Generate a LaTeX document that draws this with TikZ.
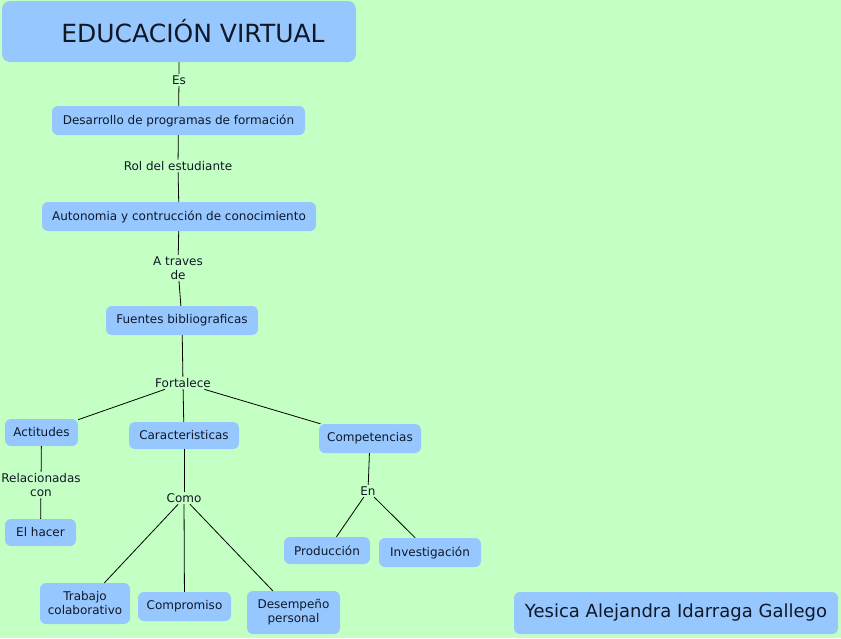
\documentclass[tikz,border=0pt]{standalone}
\usepackage{fontspec}
\setmainfont{DejaVu Sans}
\usepackage{xcolor}
\usetikzlibrary{positioning}

\definecolor{fondo}{RGB}{196,255,196}
\definecolor{caja}{RGB}{150,200,255}
\definecolor{texto}{RGB}{16,24,40}

\begin{document}
\begin{tikzpicture}[
  x=1pt, y=-1pt,
  concepto/.style={rectangle, fill=caja, rounded corners=6pt, align=center, text=texto, inner sep=2pt, font=\fontsize{12}{14}\selectfont},
  enlace/.style={inner sep=1.5pt, align=center, text=texto, font=\fontsize{12}{14}\selectfont},
  linea/.style={draw=black, line width=0.8pt}
]
\fill[fondo] (0,0) rectangle (841,638);
\useasboundingbox (0,0) rectangle (841,638);

\node[concepto, rounded corners=8pt, minimum width=354pt, minimum height=61pt, font=\fontsize{25}{30}\selectfont] (titulo) at (179,31.5) {\hspace*{28pt}EDUCACIÓN VIRTUAL};
\node[concepto, minimum width=253pt, minimum height=29pt] (desarrollo) at (178.5,120.5) {Desarrollo de programas de formación};
\node[concepto, minimum width=274pt, minimum height=29pt] (autonomia) at (179,216.5) {Autonomia y contrucción de conocimiento};
\node[concepto, minimum width=152pt, minimum height=29pt] (fuentes) at (182,320.5) {Fuentes bibliograficas};
\node[concepto, minimum width=73pt, minimum height=27pt] (actitudes) at (41.5,432.5) {Actitudes};
\node[concepto, minimum width=110pt, minimum height=27pt] (caract) at (184,435.5) {Caracteristicas};
\node[concepto, minimum width=102pt, minimum height=29pt] (compet) at (370,438.5) {Competencias};
\node[concepto, minimum width=71pt, minimum height=27pt] (hacer) at (40.5,532.5) {El hacer};
\node[concepto, minimum width=90pt, minimum height=41pt] (trabajo) at (85,603.5) {Trabajo\\colaborativo};
\node[concepto, minimum width=93pt, minimum height=29pt] (compromiso) at (184.5,606.5) {Compromiso};
\node[concepto, minimum width=93pt, minimum height=43pt] (desempeno) at (293.5,612.5) {Desempeño\\personal};
\node[concepto, minimum width=86pt, minimum height=27pt] (produccion) at (327,550.5) {Producción};
\node[concepto, minimum width=102pt, minimum height=29pt] (investig) at (430,552.5) {Investigación};
\node[concepto, minimum width=324pt, minimum height=42pt, font=\fontsize{18}{21}\selectfont] (autora) at (676,613) {Yesica Alejandra Idarraga Gallego};

% palabras de enlace
\node[enlace] (es) at (179,80) {Es};
\node[enlace] (rol) at (178,166) {Rol del estudiante};
\node[enlace] (traves) at (178,268) {A traves\\de};
\node[enlace] (fortalece) at (183,383) {Fortalece};
\node[enlace] (relac) at (41,485) {Relacionadas\\con};
\node[enlace] (como) at (184,498) {Como};
\node[enlace] (en) at (368,491) {En};

\draw[linea] (titulo) -- (es) -- (desarrollo);
\draw[linea] (desarrollo) -- (rol) -- (autonomia);
\draw[linea] (autonomia) -- (traves) -- (fuentes);
\draw[linea] (fuentes) -- (fortalece);
\draw[linea] (fortalece) -- (actitudes);
\draw[linea] (fortalece) -- (caract);
\draw[linea] (fortalece) -- (compet);
\draw[linea] (actitudes) -- (relac) -- (hacer);
\draw[linea] (caract) -- (como);
\draw[linea] (como) -- (trabajo);
\draw[linea] (como) -- (compromiso);
\draw[linea] (como) -- (desempeno);
\draw[linea] (compet) -- (en);
\draw[linea] (en) -- (produccion);
\draw[linea] (en) -- (investig);
\end{tikzpicture}
\end{document}
